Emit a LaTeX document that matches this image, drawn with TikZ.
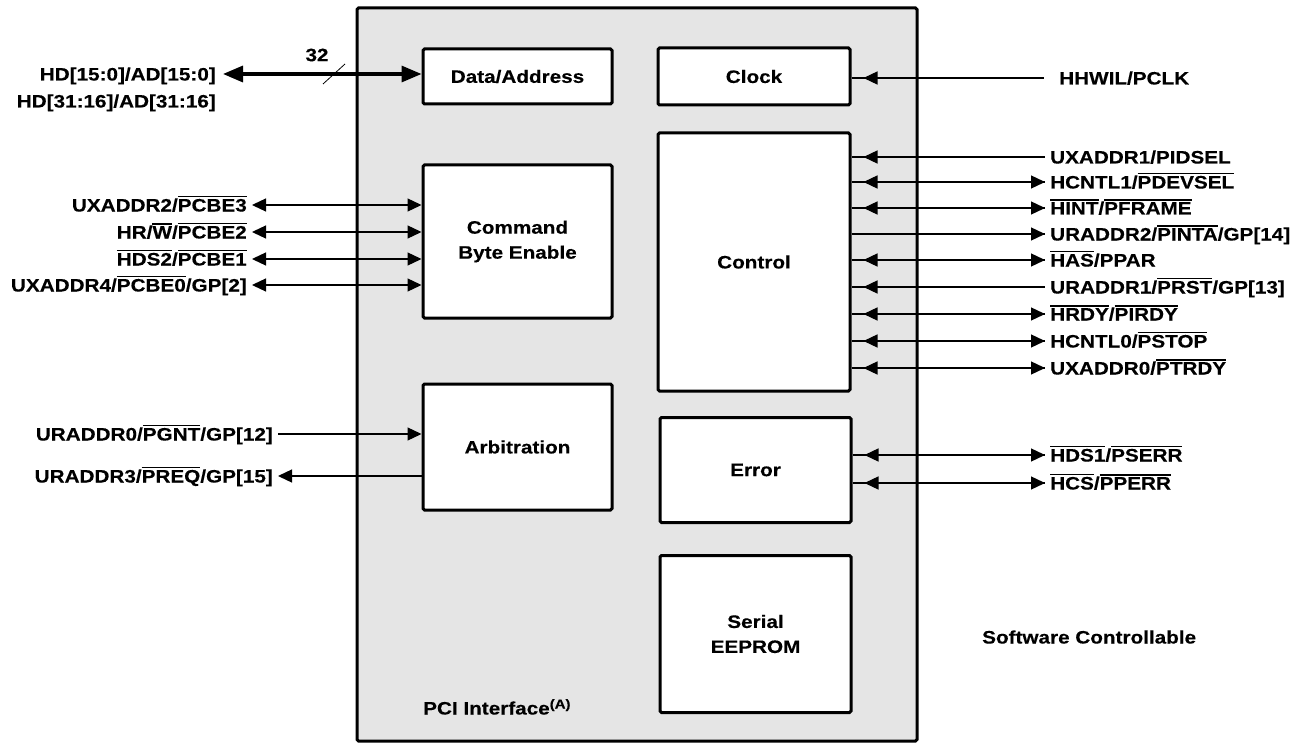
\documentclass[tikz,border=0pt]{standalone}
\usepackage{fontspec}
\newfontfamily\sigfont{Liberation Sans}[FakeStretch=1.15,FakeBold=0.3]
\usetikzlibrary{arrows.meta,calc}
% active-low signal names carry a bar over the text
\newcommand\ovl[1]{\vbox{\hrule height 1.2pt\kern 1.5pt\hbox{#1}}}
\definecolor{panel}{HTML}{E5E5E5}
\tikzset{
  lbl/.style={font=\sigfont\bfseries\fontsize{18}{25}\selectfont},
  sig/.style={lbl, inner xsep=5pt, inner ysep=0pt, text height=13pt, text depth=0pt},
  blk/.style={lbl, draw, line width=3pt, fill=white, rounded corners=1.5pt, align=center, inner sep=0pt},
  wire/.style={line width=1.3pt, >={Triangle[length=14pt,width=13pt]}},
  bus/.style={line width=3.2pt, >={Triangle[length=20pt,width=16pt]}},
  atbox/.style={shorten <=12pt},
}
\begin{document}
\begin{tikzpicture}[x=1pt,y=-1pt]
\useasboundingbox (0,0) rectangle (1307,749);

% interface panel
\node[draw, line width=3pt, fill=panel, rounded corners=1.5pt, minimum width=560pt, minimum height=733pt, inner sep=0pt] (pci) at (637,374.5) {};

% functional blocks
\node[blk, minimum width=189pt, minimum height=55pt]  (data)  at (517.5,76.5)  {Data/Address};
\node[blk, minimum width=192pt, minimum height=57pt]  (clock) at (754,76.5)    {Clock};
\node[blk, minimum width=189pt, minimum height=153pt] (cmd)   at (517.5,241.5) {Command\\Byte Enable};
\node[blk, minimum width=192pt, minimum height=258pt] (ctrl)  at (754,262)     {Control};
\node[blk, minimum width=189pt, minimum height=126pt] (arb)   at (517.5,447)   {Arbitration};
\node[blk, minimum width=191pt, minimum height=105pt] (err)   at (755.5,470)   {Error};
\node[blk, minimum width=191pt, minimum height=157pt] (eep)   at (755.5,634)   {Serial\\EEPROM};

\node[lbl, anchor=west, inner sep=0pt, text height=13pt, text depth=0pt] (pcilabel) at (423,708)
  {PCI Interface\raisebox{6pt}{\fontsize{13}{13}\selectfont(A)}};
\node[lbl, anchor=west, inner sep=0pt, text height=13pt, text depth=0pt] (sw) at (982,637) {Software Controllable};

% data/address bus
\node[sig, anchor=east, inner xsep=7pt] (hd1) at (223,74)  {HD[15:0]/AD[15:0]};
\node[sig, anchor=east, inner xsep=7pt] (hd2) at (223,101) {HD[31:16]/AD[31:16]};
\draw[bus,<->] (hd1.east) -- (data.west |- hd1.east);
\coordinate (busmark) at (334,74);
\draw[line width=0.8pt] ($(busmark)+(-11,10)$) -- ($(busmark)+(11,-10)$);
\node[lbl, inner sep=0pt] (width) at (317,55) {32};

% command / byte enable
\node[sig, anchor=east] (l1) at (252,205) {UXADDR2/\ovl{PCBE3}};
\node[sig, anchor=east] (l2) at (252,232) {HR/\ovl{W}/\ovl{PCBE2}};
\node[sig, anchor=east] (l3) at (252,259) {\ovl{HDS2}/\ovl{PCBE1}};
\node[sig, anchor=east] (l4) at (252,285) {UXADDR4/\ovl{PCBE0}/GP[2]};
\foreach \n in {l1,l2,l3,l4}
  \draw[wire,<->] (\n.east) -- (cmd.west |- \n.east);

% arbitration
\node[sig, anchor=east] (a1) at (278,434) {URADDR0/\ovl{PGNT}/GP[12]};
\node[sig, anchor=east] (a2) at (278,476) {URADDR3/\ovl{PREQ}/GP[15]};
\draw[wire,->] (a1.east) -- (arb.west |- a1.east);
\draw[wire,<-] (a2.east) -- (arb.west |- a2.east);

% clock
\node[sig, anchor=west, inner xsep=15pt] (clk) at (1044,78) {HHWIL/PCLK};
\draw[wire] (clock.east |- clk.west) -- (clk.west);
\draw[wire,<-,atbox] (clock.east |- clk.west) -- (clk.west);

% control signals
\node[sig, anchor=west] (r1) at (1045,157) {UXADDR1/PIDSEL};
\node[sig, anchor=west] (r2) at (1045,182) {HCNTL1/\ovl{PDEVSEL}};
\node[sig, anchor=west] (r3) at (1045,208) {\ovl{HINT}/\ovl{PFRAME}};
\node[sig, anchor=west] (r4) at (1045,234) {URADDR2/\ovl{PINTA}/GP[14]};
\node[sig, anchor=west] (r5) at (1045,260) {\ovl{HAS}/PPAR};
\node[sig, anchor=west] (r6) at (1045,287) {URADDR1/\ovl{PRST}/GP[13]};
\node[sig, anchor=west] (r7) at (1045,314) {\ovl{HRDY}/\ovl{PIRDY}};
\node[sig, anchor=west] (r8) at (1045,341) {HCNTL0/\ovl{PSTOP}};
\node[sig, anchor=west] (r9) at (1045,368) {UXADDR0/\ovl{PTRDY}};
\foreach \n in {r1,r2,r3,r4,r5,r6,r7,r8,r9}
  \draw[wire] (ctrl.east |- \n.west) -- (\n.west);
\foreach \n in {r1,r6}
  \draw[wire,<-,atbox] (ctrl.east |- \n.west) -- (\n.west);
\foreach \n in {r2,r3,r5,r7,r8,r9}
  \draw[wire,<->,atbox] (ctrl.east |- \n.west) -- (\n.west);
\draw[wire,->] (ctrl.east |- r4.west) -- (r4.west);

% error signals
\node[sig, anchor=west] (e1) at (1045,455) {\ovl{HDS1}/\ovl{PSERR}};
\node[sig, anchor=west] (e2) at (1045,483) {\ovl{HCS}/\ovl{PPERR}};
\foreach \n in {e1,e2}{
  \draw[wire] (err.east |- \n.west) -- (\n.west);
  \draw[wire,<->,atbox] (err.east |- \n.west) -- (\n.west);
}
\end{tikzpicture}
\end{document}
